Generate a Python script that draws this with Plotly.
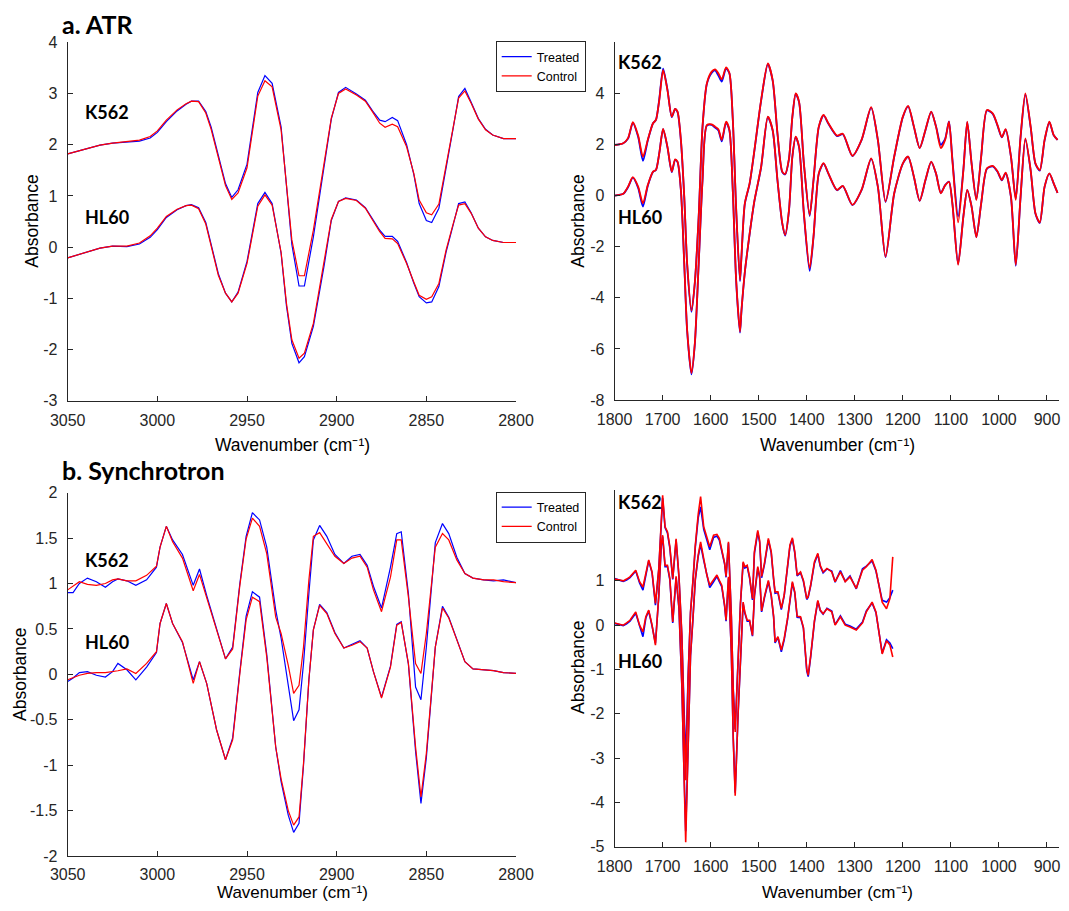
import plotly.graph_objects as go

# The page body adds an 8 px margin round the figure; the figure is sized so the
# page does not overflow the 1069x911 window, and every position below is
# measured on the reference picture and shifted by that margin.
PAGE_OFF = 8
W, H = 1069 - 2 * PAGE_OFF, 911 - 2 * PAGE_OFF

# ---------------- a. ATR, lipid region (3050-2800) ----------------
atr_lip_wn = [3050, 3041, 3032, 3025, 3017, 3010, 3004, 3000, 2995, 2989,
              2984, 2981, 2977, 2973, 2970, 2966, 2962, 2958.5, 2955, 2950,
              2944, 2940, 2936, 2931, 2928, 2925, 2921, 2918, 2913, 2907,
              2903, 2899, 2895, 2889, 2884, 2880, 2876, 2873, 2869, 2866,
              2861, 2857, 2854, 2850, 2847, 2843, 2839, 2835, 2832, 2828.5,
              2825, 2821, 2817, 2813, 2807, 2800]
atr_lip_k562_control = [1.82, 1.90, 1.99, 2.03, 2.06, 2.09, 2.16, 2.27, 2.48, 2.68,
                        2.80, 2.85, 2.84, 2.62, 2.30, 1.75, 1.20, 0.93, 1.06, 1.55,
                        2.95, 3.25, 3.13, 2.29, 1.20, 0.14, -0.56, -0.56, 0.33, 1.70,
                        2.52, 3.00, 3.09, 2.97, 2.85, 2.64, 2.42, 2.34, 2.40, 2.35,
                        1.96, 1.44, 0.92, 0.67, 0.63, 0.84, 1.57, 2.35, 2.91, 3.05,
                        2.81, 2.50, 2.29, 2.19, 2.12, 2.12]
atr_lip_k562_treated = [1.82, 1.90, 1.99, 2.03, 2.05, 2.07, 2.13, 2.24, 2.45, 2.66,
                        2.79, 2.85, 2.85, 2.65, 2.34, 1.80, 1.24, 0.97, 1.12, 1.62,
                        3.02, 3.35, 3.20, 2.35, 1.15, 0.05, -0.76, -0.76, 0.20, 1.62,
                        2.50, 3.02, 3.12, 2.99, 2.87, 2.66, 2.48, 2.45, 2.53, 2.47,
                        2.00, 1.42, 0.85, 0.52, 0.48, 0.76, 1.52, 2.33, 2.94, 3.10,
                        2.83, 2.51, 2.30, 2.19, 2.12, 2.12]
atr_lip_hl60_control = [-0.21, -0.12, -0.02, 0.02, 0.02, 0.08, 0.22, 0.37, 0.60, 0.74,
                        0.81, 0.82, 0.75, 0.45, 0.00, -0.55, -0.90, -1.07, -0.90, -0.32,
                        0.80, 1.02, 0.82, -0.10, -1.10, -1.81, -2.17, -2.07, -1.49, -0.32,
                        0.54, 0.89, 0.95, 0.91, 0.76, 0.53, 0.30, 0.17, 0.16, 0.07,
                        -0.32, -0.68, -0.94, -1.02, -0.97, -0.71, -0.06, 0.46, 0.82, 0.85,
                        0.66, 0.37, 0.20, 0.13, 0.09, 0.09]
atr_lip_hl60_treated = [-0.21, -0.12, -0.02, 0.02, 0.01, 0.06, 0.19, 0.34, 0.58, 0.73,
                        0.81, 0.83, 0.77, 0.48, 0.03, -0.52, -0.90, -1.07, -0.88, -0.28,
                        0.85, 1.07, 0.85, -0.12, -1.15, -1.88, -2.26, -2.14, -1.55, -0.36,
                        0.52, 0.89, 0.96, 0.92, 0.77, 0.55, 0.33, 0.21, 0.21, 0.11,
                        -0.30, -0.70, -0.97, -1.09, -1.07, -0.77, -0.10, 0.44, 0.85, 0.88,
                        0.67, 0.37, 0.20, 0.13, 0.09, 0.09]

# ---------------- a. ATR, fingerprint region (1800-878) ----------------
atr_fp_wn = [1800, 1782, 1772, 1762, 1751, 1741, 1731, 1720, 1714, 1707,
             1699, 1690, 1681, 1674, 1669, 1662, 1655, 1649, 1640, 1633,
             1625, 1617, 1608, 1598, 1591, 1584, 1577, 1568, 1561, 1554,
             1547, 1539, 1536, 1529, 1519, 1509, 1495, 1481, 1471, 1461,
             1451, 1445, 1437, 1430, 1423, 1416, 1406, 1394, 1386, 1375,
             1365, 1355, 1337, 1325, 1305, 1286, 1266, 1252, 1236, 1218,
             1200, 1189, 1177, 1165, 1153, 1141, 1131, 1121, 1112, 1104,
             1097, 1085, 1074, 1066, 1057, 1047, 1037, 1025, 1013, 1003,
             994, 986, 975, 965, 955, 945, 934, 924, 915, 905,
             895, 886, 878]
atr_fp_k562_control = [1.98, 2.05, 2.25, 2.87, 2.35, 1.52, 2.18, 2.83, 2.96, 3.74,
                       4.91, 4.13, 3.09, 3.39, 3.29, 2.18, -0.04, -2.65, -4.50, -3.40,
                       -0.82, 2.70, 4.39, 4.85, 4.94, 4.79, 4.55, 5.02, 4.80, 3.00,
                       -0.50, -3.30, -2.39, -0.31, 0.48, 1.78, 3.74, 5.17, 4.52, 2.44,
                       0.94, 0.85, 1.46, 3.09, 4.00, 3.67, 1.26, -0.76, 0.61, 2.70,
                       3.16, 2.83, 2.35, 2.42, 1.56, 2.18, 3.46, 2.18, -0.23, 1.53,
                       3.09, 3.51, 2.70, 1.86, 2.57, 3.29, 2.70, 1.86, 2.18, 2.89,
                       1.40, -1.05, 1.00, 2.89, 1.26, -0.17, 1.53, 3.35, 3.22, 2.76,
                       2.29, 2.60, 1.53, -0.17, 2.31, 4.00, 2.70, 1.26, 1.00, 2.18,
                       2.89, 2.37, 2.18]
atr_fp_k562_treated = [1.98, 2.05, 2.23, 2.85, 2.30, 1.36, 2.15, 2.83, 2.96, 3.78,
                       4.97, 4.15, 3.07, 3.39, 3.27, 2.15, -0.08, -2.70, -4.55, -3.42,
                       -0.84, 2.68, 4.37, 4.80, 4.90, 4.70, 4.46, 4.98, 4.78, 2.98,
                       -0.55, -3.35, -2.42, -0.33, 0.46, 1.76, 3.72, 5.14, 4.50, 2.42,
                       0.92, 0.83, 1.44, 3.07, 3.98, 3.65, 1.24, -0.80, 0.59, 2.68,
                       3.14, 2.81, 2.33, 2.40, 1.55, 2.17, 3.44, 2.16, -0.25, 1.52,
                       3.07, 3.49, 2.69, 1.86, 2.56, 3.28, 2.71, 1.99, 2.22, 2.90,
                       1.45, -0.82, 1.02, 2.87, 1.27, -0.15, 1.52, 3.33, 3.20, 2.74,
                       2.28, 2.58, 1.52, -0.12, 2.29, 3.95, 2.68, 1.24, 0.98, 2.16,
                       2.87, 2.36, 2.18]
atr_fp_hl60_control = [0.00, 0.07, 0.35, 0.72, 0.35, -0.30, 0.41, 0.94, 1.00, 1.65,
                       2.61, 1.91, 0.94, 1.42, 1.33, 0.22, -2.65, -5.26, -6.95, -5.78,
                       -2.65, 0.61, 2.76, 2.79, 2.70, 2.60, 2.18, 2.89, 2.57, 0.22,
                       -3.30, -5.32, -4.50, -3.00, -1.50, -0.20, 1.13, 3.09, 2.57, 0.61,
                       -1.08, -1.54, -0.56, 1.53, 2.31, 1.91, -0.69, -2.84, -1.60, 0.87,
                       1.27, 0.87, 0.22, 0.38, -0.36, 0.22, 1.46, 0.35, -2.39, 0.09,
                       1.26, 1.53, 0.74, -0.20, 0.61, 1.33, 0.87, 0.09, 0.40, 0.54,
                       -0.30, -2.71, -0.82, 0.22, -0.43, -1.63, -0.30, 1.07, 1.16, 0.95,
                       0.61, 0.90, -0.04, -2.71, -0.04, 2.24, 1.00, -0.69, -1.05, 0.35,
                       0.87, 0.48, 0.11]
atr_fp_hl60_treated = [0.00, 0.07, 0.33, 0.70, 0.30, -0.43, 0.38, 0.93, 1.00, 1.67,
                       2.60, 1.89, 0.92, 1.40, 1.31, 0.20, -2.68, -5.30, -7.00, -5.82,
                       -2.68, 0.59, 2.74, 2.77, 2.66, 2.55, 2.12, 2.86, 2.55, 0.20,
                       -3.34, -5.36, -4.54, -3.02, -1.52, -0.22, 1.11, 3.07, 2.55, 0.59,
                       -1.10, -1.57, -0.58, 1.51, 2.29, 1.89, -0.72, -2.95, -1.63, 0.85,
                       1.25, 0.86, 0.21, 0.37, -0.37, 0.21, 1.44, 0.34, -2.41, 0.08,
                       1.25, 1.52, 0.73, -0.21, 0.60, 1.32, 0.86, 0.10, 0.41, 0.55,
                       -0.28, -2.68, -0.80, 0.21, -0.42, -1.62, -0.31, 1.05, 1.14, 0.93,
                       0.60, 0.88, -0.06, -2.75, -0.06, 2.20, 0.98, -0.71, -1.07, 0.34,
                       0.86, 0.47, 0.11]

# ---------------- b. Synchrotron, lipid region (3050-2800) ----------------
syn_lip_wn = [3050, 3047, 3043.5, 3039, 3034, 3029, 3025, 3022, 3017, 3012,
              3006, 3000.5, 2998.5, 2995, 2991.5, 2986, 2980, 2976.5, 2972.5, 2967,
              2962, 2958, 2954, 2950.5, 2947, 2943, 2939, 2934, 2931, 2927,
              2924, 2921, 2918.5, 2915.5, 2913, 2909.5, 2905.5, 2901, 2896, 2891.5,
              2887, 2883, 2879.5, 2875, 2870, 2866.5, 2864, 2860, 2856, 2853,
              2850, 2845, 2841, 2837.5, 2833, 2828.5, 2824, 2818, 2812.5, 2807,
              2800]
syn_lip_k562_control = [0.93, 0.97, 1.02, 0.99, 0.98, 1.00, 1.04, 1.05, 1.03, 1.03,
                        1.09, 1.19, 1.40, 1.63, 1.46, 1.28, 0.92, 1.10, 0.85, 0.49,
                        0.17, 0.28, 0.98, 1.49, 1.72, 1.63, 1.33, 0.63, 0.45, 0.10,
                        -0.21, -0.12, 0.30, 1.04, 1.52, 1.56, 1.44, 1.30, 1.22, 1.28,
                        1.30, 1.18, 0.93, 0.69, 1.07, 1.48, 1.48, 0.85, 0.12, 0.01,
                        0.45, 1.40, 1.55, 1.48, 1.26, 1.11, 1.06, 1.04, 1.04, 1.02,
                        1.01]
syn_lip_k562_treated = [0.90, 0.90, 1.00, 1.06, 1.02, 0.96, 1.02, 1.05, 1.03, 0.98,
                        1.04, 1.18, 1.40, 1.63, 1.48, 1.32, 0.98, 1.16, 0.87, 0.50,
                        0.17, 0.30, 1.00, 1.52, 1.78, 1.70, 1.40, 0.71, 0.40, -0.12,
                        -0.51, -0.39, 0.12, 0.89, 1.48, 1.64, 1.52, 1.32, 1.22, 1.30,
                        1.32, 1.20, 0.97, 0.73, 1.18, 1.55, 1.57, 0.89, -0.14, -0.28,
                        0.30, 1.45, 1.66, 1.55, 1.29, 1.11, 1.06, 1.04, 1.03, 1.04,
                        1.01]
syn_lip_hl60_control = [-0.06, -0.04, -0.01, 0.01, 0.02, 0.02, 0.03, 0.04, 0.06, 0.01,
                        0.12, 0.25, 0.56, 0.78, 0.56, 0.36, -0.10, 0.14, -0.10, -0.61,
                        -0.94, -0.72, 0.01, 0.60, 0.85, 0.80, 0.19, -0.80, -1.15, -1.50,
                        -1.66, -1.57, -0.98, -0.06, 0.49, 0.76, 0.67, 0.45, 0.29, 0.32,
                        0.36, 0.29, 0.03, -0.26, 0.08, 0.54, 0.57, 0.12, -0.80, -1.35,
                        -0.87, 0.30, 0.73, 0.62, 0.38, 0.14, 0.06, 0.05, 0.04, 0.02,
                        0.01]
syn_lip_hl60_treated = [-0.08, -0.04, 0.02, 0.03, -0.01, -0.03, 0.03, 0.12, 0.05, -0.06,
                        0.08, 0.24, 0.56, 0.78, 0.56, 0.35, -0.06, 0.14, -0.10, -0.61,
                        -0.94, -0.70, 0.03, 0.64, 0.91, 0.85, 0.22, -0.80, -1.18, -1.55,
                        -1.74, -1.64, -1.00, -0.06, 0.49, 0.77, 0.68, 0.46, 0.29, 0.33,
                        0.37, 0.29, 0.03, -0.25, 0.09, 0.55, 0.58, 0.11, -0.85, -1.42,
                        -0.92, 0.30, 0.75, 0.63, 0.38, 0.14, 0.06, 0.05, 0.04, 0.02,
                        0.01]

# ---------------- b. Synchrotron, fingerprint region (1800-1221) ----------------
syn_fp_wn = [1800, 1790, 1782, 1775, 1768, 1756, 1748, 1741, 1735, 1729,
             1722, 1715, 1708, 1703, 1700, 1695, 1690, 1685, 1679, 1672,
             1666, 1660, 1656, 1652, 1647, 1642, 1637, 1632, 1626, 1621,
             1614.5, 1608, 1602, 1594, 1587, 1582, 1577, 1571, 1568, 1563,
             1557, 1553, 1549, 1543, 1538, 1532.5, 1529, 1524, 1519, 1513,
             1509, 1502, 1498, 1494, 1488, 1480, 1474, 1469, 1466, 1460,
             1453, 1447, 1440, 1435, 1430, 1425, 1420, 1413, 1407, 1400,
             1397, 1392, 1384, 1377, 1372, 1366, 1358, 1348, 1341, 1330,
             1320, 1310, 1297, 1284, 1276, 1264, 1256, 1243, 1234, 1227,
             1221]
syn_fp_k562_control = [1.04, 1.01, 1.00, 1.04, 1.09, 1.24, 0.98, 0.86, 1.20, 1.47,
                       1.20, 0.49, 1.28, 2.41, 2.93, 2.22, 2.11, 1.77, 1.05, 1.95,
                       1.10, -0.22, -1.80, -3.50, -1.20, 0.30, 1.00, 1.80, 2.50, 2.90,
                       2.22, 1.96, 1.77, 2.03, 2.05, 1.96, 1.73, 1.40, 1.10, 1.88,
                       0.20, -1.50, -2.41, -0.80, 0.50, 1.43, 1.32, 1.35, 1.09, 0.60,
                       1.66, 2.14, 1.90, 1.10, 1.40, 1.96, 1.66, 1.05, 0.75, 0.75,
                       0.38, 0.68, 1.28, 1.81, 1.97, 1.66, 1.13, 1.20, 1.01, 0.60,
                       0.65, 0.90, 1.43, 1.62, 1.35, 1.20, 1.28, 1.20, 0.98, 1.20,
                       0.98, 1.09, 0.83, 1.24, 1.32, 1.48, 1.24, 0.52, 0.37, 0.60,
                       1.54]
syn_fp_k562_treated = [1.05, 1.02, 0.99, 1.02, 1.07, 1.22, 0.95, 0.79, 1.17, 1.45,
                       1.18, 0.45, 1.26, 2.38, 2.87, 2.20, 2.08, 1.74, 1.03, 1.92,
                       1.07, -0.25, -1.70, -3.10, -1.15, 0.28, 0.97, 1.76, 2.42, 2.67,
                       2.16, 1.92, 1.70, 1.98, 2.01, 1.92, 1.70, 1.38, 1.08, 1.85,
                       0.18, -1.45, -2.35, -0.82, 0.48, 1.40, 1.29, 1.32, 1.06, 0.57,
                       1.62, 2.10, 1.86, 1.07, 1.37, 1.92, 1.63, 1.03, 0.72, 0.73,
                       0.35, 0.66, 1.25, 1.78, 1.94, 1.63, 1.11, 1.18, 0.99, 0.58,
                       0.63, 0.88, 1.40, 1.60, 1.33, 1.18, 1.27, 1.22, 0.97, 1.23,
                       0.99, 1.11, 0.82, 1.27, 1.33, 1.45, 1.22, 0.56, 0.52, 0.62,
                       0.79]
syn_fp_hl60_control = [0.05, 0.02, 0.00, 0.05, 0.11, 0.30, 0.00, -0.15, 0.19, 0.34,
                       0.00, -0.45, 0.68, 1.80, 2.03, 1.35, 1.35, 1.05, 0.07, 1.10,
                       0.40, -1.35, -3.20, -4.90, -2.80, -0.68, 0.15, 1.05, 1.58, 1.88,
                       1.50, 1.13, 0.90, 1.01, 1.13, 1.01, 0.90, 0.45, 0.11, 1.09,
                       -0.60, -2.60, -3.85, -2.00, -0.80, 0.52, 0.30, 0.11, 0.11, -0.23,
                       0.68, 1.32, 1.10, 0.32, 0.65, 1.01, 0.68, 0.20, -0.38, -0.26,
                       -0.56, -0.30, 0.15, 0.60, 0.98, 0.75, 0.20, 0.19, -0.05, -1.00,
                       -1.13, -0.70, 0.10, 0.56, 0.34, 0.26, 0.37, 0.30, 0.00, 0.19,
                       0.00, -0.04, -0.11, 0.05, 0.30, 0.52, 0.30, -0.65, -0.35, -0.45,
                       -0.72]
syn_fp_hl60_treated = [0.04, 0.01, -0.01, 0.03, 0.09, 0.27, -0.03, -0.26, 0.16, 0.32,
                       -0.02, -0.41, 0.66, 1.77, 2.00, 1.32, 1.32, 1.02, 0.05, 1.07,
                       0.37, -1.38, -3.10, -4.65, -2.75, -0.70, 0.12, 1.02, 1.55, 1.82,
                       1.46, 1.10, 0.85, 0.98, 1.10, 0.98, 0.87, 0.43, 0.09, 1.06,
                       -0.62, -2.55, -3.78, -2.02, -0.82, 0.49, 0.27, 0.09, 0.09, -0.25,
                       0.65, 1.29, 1.07, 0.30, 0.62, 0.98, 0.66, 0.18, -0.40, -0.28,
                       -0.60, -0.33, 0.13, 0.58, 0.95, 0.73, 0.18, 0.17, -0.07, -1.03,
                       -1.16, -0.73, 0.08, 0.54, 0.33, 0.25, 0.38, 0.32, 0.01, 0.21,
                       0.02, -0.02, -0.09, 0.07, 0.32, 0.50, 0.28, -0.63, -0.33, -0.40,
                       -0.53]

# ---------------- axis ticks ----------------
lip_ticks = [3050, 3000, 2950, 2900, 2850, 2800]
fp_ticks = [1800, 1700, 1600, 1500, 1400, 1300, 1200, 1100, 1000, 900]
atr_lip_yticks = [-3, -2, -1, 0, 1, 2, 3, 4]
atr_fp_yticks = [-8, -6, -4, -2, 0, 2, 4]
atr_fp_extra_ticks = [6]
syn_lip_yticks = [-2, -1.5, -1, -0.5, 0, 0.5, 1, 1.5, 2]
syn_fp_yticks = [-5, -4, -3, -2, -1, 0, 1]
syn_fp_extra_ticks = [2, 3]


def labels(vals):
    return ["%g" % v for v in vals]


BLUE = "rgb(0,0,255)"
RED = "rgb(255,0,0)"
AX = "#262626"
FONT = "Arial, 'Liberation Sans', sans-serif"
BOLD_FONT = "Lato, 'Open Sans', sans-serif"

fig = go.Figure()


def px_x(p):
    return (p - PAGE_OFF) / W


def px_y(p):
    return 1 - (p - PAGE_OFF) / H


panels = [
    ("x", "y", atr_lip_wn, atr_lip_k562_control, atr_lip_k562_treated,
     atr_lip_hl60_control, atr_lip_hl60_treated, 1.2, "linear", "legend"),
    ("x2", "y2", atr_fp_wn, atr_fp_k562_control, atr_fp_k562_treated,
     atr_fp_hl60_control, atr_fp_hl60_treated, 1.8, "spline", None),
    ("x3", "y3", syn_lip_wn, syn_lip_k562_control, syn_lip_k562_treated,
     syn_lip_hl60_control, syn_lip_hl60_treated, 1.2, "linear", "legend2"),
    ("x4", "y4", syn_fp_wn, syn_fp_k562_control, syn_fp_k562_treated,
     syn_fp_hl60_control, syn_fp_hl60_treated, 1.6, "linear", None),
]

for xa, ya, wn, kc, kt, hc, ht, lw, shape, leg in panels:
    line_kw = dict(width=lw, shape=shape)
    if shape == "spline":
        line_kw["smoothing"] = 0.7
    show = leg is not None
    lg = leg if leg else "legend"
    fig.add_trace(go.Scatter(x=wn, y=kt, mode="lines", name="Treated",
                             line=dict(color=BLUE, **line_kw), xaxis=xa, yaxis=ya,
                             showlegend=show, legend=lg, legendrank=1))
    fig.add_trace(go.Scatter(x=wn, y=ht, mode="lines", name="Treated",
                             line=dict(color=BLUE, **line_kw), xaxis=xa, yaxis=ya,
                             showlegend=False, legend=lg))
    fig.add_trace(go.Scatter(x=wn, y=kc, mode="lines", name="Control",
                             line=dict(color=RED, **line_kw), xaxis=xa, yaxis=ya,
                             showlegend=show, legend=lg, legendrank=2))
    fig.add_trace(go.Scatter(x=wn, y=hc, mode="lines", name="Control",
                             line=dict(color=RED, **line_kw), xaxis=xa, yaxis=ya,
                             showlegend=False, legend=lg))

# panel geometry in reference-picture pixels
L_X0, L_X1 = 67.7, 516.0
R_X0, R_X1 = 614.6, 1059.0
FP_RANGE = [1800, 875]
T_Y0, T_Y1 = 42.3, 400.7
TR_Y1 = 400.0
B_Y0, B_Y1 = 492.7, 856.0
BR_Y0, BR_Y1 = 490.0, 846.7

common = dict(showline=True, linecolor=AX, linewidth=1, mirror=False,
              ticks="inside", ticklen=5, tickcolor=AX, tickwidth=1,
              showgrid=False, zeroline=False, automargin=False,
              ticklabeloverflow="allow",
              tickfont=dict(family=FONT, size=16, color=AX))

fig.update_layout(
    xaxis=dict(domain=[px_x(L_X0), px_x(L_X1)], anchor="y", range=[3050, 2800],
               tickvals=lip_ticks, ticktext=labels(lip_ticks),
               ticklabelstandoff=5, **common),
    yaxis=dict(domain=[px_y(T_Y1), px_y(T_Y0)], anchor="x", range=[-3, 4],
               tickvals=atr_lip_yticks, ticktext=labels(atr_lip_yticks),
               ticklabelstandoff=6, **common),
    xaxis2=dict(domain=[px_x(R_X0), px_x(R_X1)], anchor="y2", range=FP_RANGE,
                tickvals=fp_ticks, ticktext=labels(fp_ticks),
                ticklabelstandoff=5, **common),
    yaxis2=dict(domain=[px_y(TR_Y1), px_y(T_Y0)], anchor="x2", range=[-8, 6],
                tickvals=atr_fp_yticks, ticktext=labels(atr_fp_yticks),
                ticklabelstandoff=6, **common),
    xaxis3=dict(domain=[px_x(L_X0), px_x(L_X1)], anchor="y3", range=[3050, 2800],
                tickvals=lip_ticks, ticktext=labels(lip_ticks),
                ticklabelstandoff=4, **common),
    yaxis3=dict(domain=[px_y(B_Y1), px_y(B_Y0)], anchor="x3", range=[-2, 2],
                tickvals=syn_lip_yticks, ticktext=labels(syn_lip_yticks),
                ticklabelstandoff=6, **common),
    xaxis4=dict(domain=[px_x(R_X0), px_x(R_X1)], anchor="y4", range=FP_RANGE,
                tickvals=fp_ticks, ticktext=labels(fp_ticks),
                ticklabelstandoff=5, **common),
    yaxis4=dict(domain=[px_y(BR_Y1), px_y(BR_Y0)], anchor="x4", range=[-5, 3.05],
                tickvals=syn_fp_yticks, ticktext=labels(syn_fp_yticks),
                ticklabelstandoff=6, **common),
    # unlabeled tick marks at the top of the right-hand panels
    yaxis5=dict(overlaying="y2", anchor="x2", range=[-8, 6], tickvals=atr_fp_extra_ticks,
                showticklabels=False, ticks="inside", ticklen=5, tickcolor=AX,
                showline=False, showgrid=False, zeroline=False, automargin=False),
    yaxis6=dict(overlaying="y4", anchor="x4", range=[-5, 3.05], tickvals=syn_fp_extra_ticks,
                showticklabels=False, ticks="inside", ticklen=5, tickcolor=AX,
                showline=False, showgrid=False, zeroline=False, automargin=False),
)

legend_common = dict(xanchor="left", yanchor="top", bgcolor="white",
                     bordercolor=AX, borderwidth=1,
                     font=dict(family=FONT, size=12.5, color="black"),
                     itemwidth=30, tracegroupgap=0, traceorder="normal")
fig.update_layout(
    legend=dict(x=px_x(495.7), y=px_y(41.0), **legend_common),
    legend2=dict(x=px_x(495.7), y=px_y(491.5), **legend_common),
)

ann = []


def text(x, y, s, size, family=FONT, angle=0, xanchor="center", yanchor="middle"):
    ann.append(dict(x=px_x(x), y=px_y(y), xref="paper", yref="paper", text=s,
                    showarrow=False, xanchor=xanchor, yanchor=yanchor,
                    textangle=angle, borderpad=0,
                    font=dict(family=family, size=size, color="black")))


text(61, 8, "<b>a. ATR</b>", 25, family=BOLD_FONT, xanchor="left", yanchor="top")
text(61, 470, "<b>b. Synchrotron</b>", 25, family=BOLD_FONT, xanchor="left")

text(84, 111.7, "<b>K562</b>", 18, family=BOLD_FONT, xanchor="left")
text(84, 216.7, "<b>HL60</b>", 18, family=BOLD_FONT, xanchor="left")
text(617, 62.3, "<b>K562</b>", 18, family=BOLD_FONT, xanchor="left")
text(617, 216.7, "<b>HL60</b>", 18, family=BOLD_FONT, xanchor="left")
text(84, 560, "<b>K562</b>", 18, family=BOLD_FONT, xanchor="left")
text(84, 641.7, "<b>HL60</b>", 18, family=BOLD_FONT, xanchor="left")
text(617, 501.7, "<b>K562</b>", 18, family=BOLD_FONT, xanchor="left")
text(617, 661, "<b>HL60</b>", 18, family=BOLD_FONT, xanchor="left")

xt = "Wavenumber (cm\u207b\u00b9)"
text(292, 445, xt, 17.5)
text(837, 445, xt, 17.5)
text(292, 903, xt, 17, yanchor="bottom")
text(837, 903, xt, 17, yanchor="bottom")
text(32, 221.7, "Absorbance", 17.5, angle=-90)
text(578, 221.7, "Absorbance", 17.5, angle=-90)
text(20, 675, "Absorbance", 17.5, angle=-90)
text(578, 668, "Absorbance", 17.5, angle=-90)

fig.update_layout(annotations=ann, width=W, height=H,
                  margin=dict(l=0, r=0, t=0, b=0, pad=0, autoexpand=False),
                  paper_bgcolor="white", plot_bgcolor="white",
                  showlegend=True)

fig.write_html("out.html")
